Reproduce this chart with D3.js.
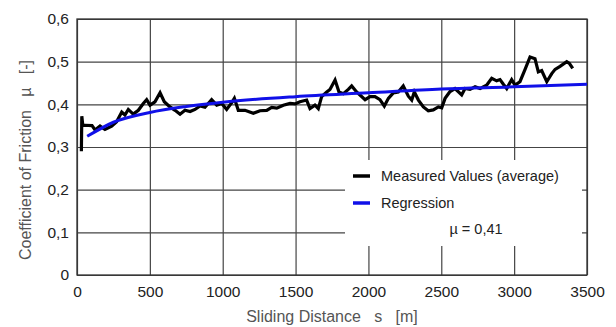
<!DOCTYPE html>
<html>
<head>
<meta charset="utf-8">
<script src="https://cdn.jsdelivr.net/npm/d3@7"></script>
<style>
body { margin: 0; background: #fff; }
text { font-family: "Liberation Sans", Arial, sans-serif; }
</style>
</head>
<body>
<div id="chart"></div>
<script>
// measured friction coefficient (average)
var measuredS = [30, 33, 40, 55, 103, 124, 158, 192, 238, 272, 307, 329, 352, 386, 421, 455, 478, 501, 535, 570,
    599, 638, 673, 707, 741, 776, 810, 844, 878, 924, 959, 993, 1027, 1062, 1080, 1107, 1153, 1210, 1256, 1302,
    1336, 1371, 1416, 1462, 1496, 1530, 1576, 1599, 1633, 1656, 1679, 1714, 1736, 1771, 1798, 1828, 1862, 1885,
    1919, 1942, 1977, 2011, 2045, 2079, 2109, 2137, 2171, 2205, 2239, 2274, 2297, 2315, 2343, 2377, 2411, 2445,
    2480, 2503, 2526, 2560, 2594, 2640, 2663, 2697, 2732, 2766, 2788, 2811, 2846, 2880, 2903, 2926, 2949, 2983,
    3006, 3040, 3075, 3109, 3143, 3166, 3189, 3224, 3258, 3281, 3315, 3361, 3379, 3402];
var measuredMu = [0.290, 0.372, 0.350, 0.351, 0.350, 0.340, 0.349, 0.341, 0.349, 0.359, 0.382, 0.375, 0.388, 0.377, 0.386, 0.402, 0.411, 0.398, 0.406, 0.427,
    0.406, 0.394, 0.386, 0.377, 0.386, 0.383, 0.388, 0.396, 0.393, 0.411, 0.398, 0.402, 0.388, 0.404, 0.414, 0.386, 0.386, 0.379, 0.385, 0.386,
    0.393, 0.391, 0.398, 0.402, 0.401, 0.406, 0.410, 0.390, 0.398, 0.390, 0.418, 0.429, 0.435, 0.457, 0.429, 0.425, 0.435, 0.443,
    0.429, 0.422, 0.411, 0.418, 0.418, 0.411, 0.396, 0.414, 0.427, 0.429, 0.443, 0.419, 0.410, 0.429, 0.410, 0.394, 0.385, 0.387,
    0.394, 0.392, 0.414, 0.430, 0.437, 0.422, 0.437, 0.435, 0.441, 0.437, 0.441, 0.445, 0.461, 0.455, 0.458, 0.447, 0.437, 0.458,
    0.445, 0.453, 0.482, 0.511, 0.507, 0.476, 0.479, 0.453, 0.472, 0.482, 0.489, 0.500, 0.496, 0.484];

// regression curve
var regressionS = [70, 250, 500, 750, 1000, 1500, 2000, 2500, 3000, 3500];
var regressionMu = [0.325, 0.358, 0.381, 0.395, 0.405, 0.418, 0.427, 0.436, 0.441, 0.447];

var xTicks = [0, 500, 1000, 1500, 2000, 2500, 3000, 3500];
var yTicks = [0, 0.1, 0.2, 0.3, 0.4, 0.5, 0.6];

var legendLabels = ["Measured Values (average)", "Regression"];
var legendColors = ["#000", "#1010e8"];
var meanLabel = "\u00b5 = 0,41";

var margin = {top: 19, right: 29, bottom: 52, left: 77};
var width = 616 - margin.left - margin.right,
    height = 327 - margin.top - margin.bottom;

var svg = d3.select("#chart").append("svg")
    .attr("width", 616)
    .attr("height", 327)
    .append("g")
    .attr("transform", "translate(" + margin.left + "," + margin.top + ")");

var x = d3.scaleLinear().domain([0, 3500]).range([0, width]);
var y = d3.scaleLinear().domain([0, 0.6]).range([height, 0]);

function fmt(d) {
    return d === 0 ? "0" : d3.format(".1f")(d).replace(".", ",");
}

// grid + labels via axes
var xAxis = d3.axisBottom(x).tickValues(xTicks).tickSize(-height).tickPadding(8).tickFormat(d3.format("d"));
var yAxis = d3.axisLeft(y).tickValues(yTicks).tickSize(-width).tickPadding(8).tickFormat(fmt);

var gx = svg.append("g").attr("transform", "translate(0," + height + ")").call(xAxis);
var gy = svg.append("g").call(yAxis);
[gx, gy].forEach(function(g) {
    g.select(".domain").remove();
    g.selectAll(".tick line").attr("stroke", "#444").attr("stroke-width", 1.2);
    g.selectAll(".tick text").attr("fill", "#222").style("font-size", "15.5px");
});
gx.selectAll(".tick text").attr("dy", "0.9em");

svg.append("rect")
    .attr("width", width).attr("height", height)
    .attr("fill", "none").attr("stroke", "#333").attr("stroke-width", 1.3);

// white legend area covering part of the grid
var lg = svg.append("g").attr("transform", "translate(" + (345 - margin.left) + "," + (160 - margin.top) + ")");
lg.append("rect").attr("width", 237).attr("height", 86).attr("fill", "#fff");

var line = d3.line()
    .x(function(d) { return x(d[0]); })
    .y(function(d) { return y(d[1]); });

var measured = measuredS.map(function(s, i) { return [s, measuredMu[i]]; });
var regression = regressionS.map(function(s, i) { return [s, regressionMu[i]]; });

svg.append("path")
    .datum(measured)
    .attr("d", line)
    .attr("fill", "none")
    .attr("stroke", legendColors[0])
    .attr("stroke-width", 3.2);

svg.append("path")
    .datum(regression)
    .attr("d", line.curve(d3.curveMonotoneX))
    .attr("fill", "none")
    .attr("stroke", legendColors[1])
    .attr("stroke-width", 3);

// legend entries
legendLabels.forEach(function(lab, i) {
    var yy = 16 + i * 27;
    lg.append("line")
        .attr("x1", 8).attr("x2", 25)
        .attr("y1", yy).attr("y2", yy)
        .attr("stroke", legendColors[i]).attr("stroke-width", 3.5);
    lg.append("text")
        .attr("x", 36).attr("y", yy + 5)
        .attr("fill", "#222")
        .style("font-size", "14.5px")
        .text(lab);
});
lg.append("text")
    .attr("x", 131).attr("y", 74)
    .attr("text-anchor", "middle")
    .attr("fill", "#222")
    .style("font-size", "14.5px")
    .text(meanLabel);

// axis titles
svg.append("text")
    .attr("x", 332 - margin.left).attr("y", 322 - margin.top)
    .attr("text-anchor", "middle")
    .attr("fill", "#555")
    .style("font-size", "16px")
    .style("white-space", "pre")
    .text("Sliding Distance   s   [m]");

svg.append("text")
    .attr("transform", "translate(" + (31 - margin.left) + "," + (160 - margin.top) + ") rotate(-90)")
    .attr("text-anchor", "middle")
    .attr("fill", "#555")
    .style("font-size", "16px")
    .style("white-space", "pre")
    .text("Coefficient of Friction   \u00b5   [-]");
</script>
</body>
</html>
